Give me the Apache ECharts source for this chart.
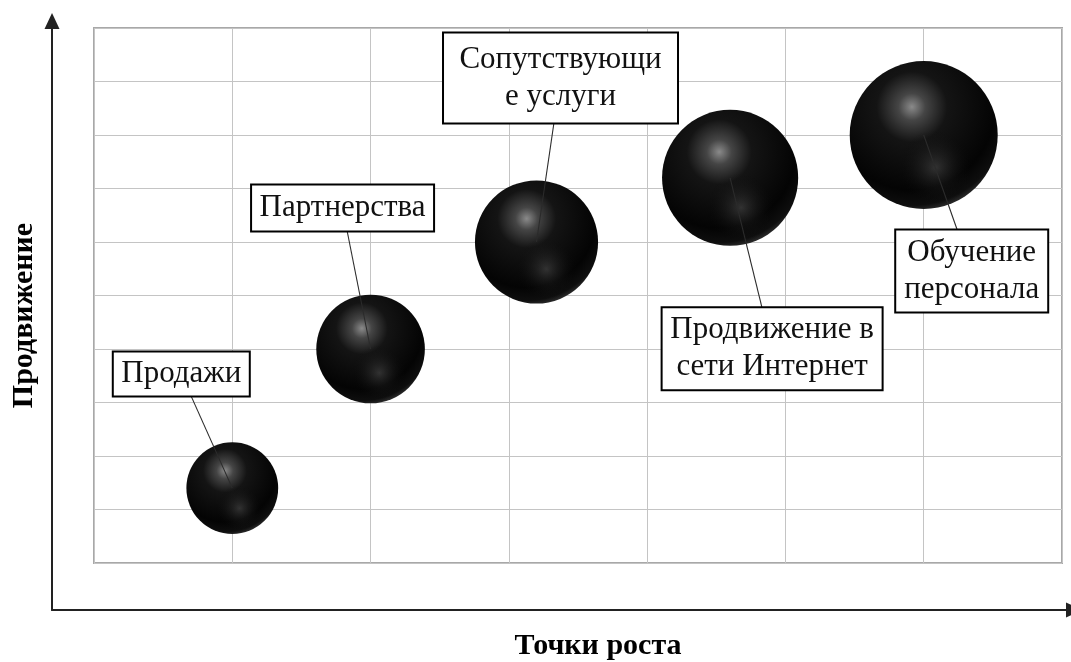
<!DOCTYPE html>
<html>
<head>
<meta charset="utf-8">
<title>Точки роста</title>
<script src="https://cdn.jsdelivr.net/npm/echarts@6/dist/echarts.min.js"></script>
<style>
  html, body { margin: 0; padding: 0; background: #fff; }
  #chart { width: 1071px; height: 662px; }
</style>
</head>
<body>
<div id="chart"></div>
<script>
// Growth points: position on the grid and bubble size
const categories = ['Продажи', 'Партнерства', 'Сопутствующие услуги', 'Продвижение в сети Интернет', 'Обучение персонала'];
const labelTexts = ['Продажи', 'Партнерства', 'Сопутствующи\nе услуги', 'Продвижение в\nсети Интернет', 'Обучение\nперсонала'];
const xValues = [1.0, 2.0, 3.2, 4.6, 6.0];
const yValues = [1.4, 4.0, 6.0, 7.2, 8.0];
const bubbleSizes = [2.5, 3.5, 4.5, 5.5, 6.5];

// Callout placement (pixel offset of the box centre from the bubble centre) and box size
const labelOffsets = [[-51, -114], [-28, -141], [24, -164], [42, 171], [48, 136]];
const labelBoxes = [[137, 45], [183, 47], [235, 91], [221, 83], [153, 83]];

const MAX_DIAMETER = 148;
const maxSize = Math.max.apply(null, bubbleSizes);
const points = xValues.map((x, i) => [x, yValues[i], bubbleSizes[i], categories[i]]);

const sphereBase = {
  type: 'radial', x: 0.42, y: 0.31, r: 0.7,
  colorStops: [
    { offset: 0, color: '#8a8a8a' },
    { offset: 0.13, color: '#454545' },
    { offset: 0.34, color: '#141414' },
    { offset: 0.8, color: '#040404' },
    { offset: 0.95, color: '#0e0e0e' },
    { offset: 1, color: '#262626' }
  ]
};
const sphereGlow = {
  type: 'radial', x: 0.58, y: 0.72, r: 0.26,
  colorStops: [
    { offset: 0, color: 'rgba(110,110,110,0.4)' },
    { offset: 1, color: 'rgba(0,0,0,0)' }
  ]
};

const bubbleSize = v => MAX_DIAMETER * Math.sqrt(v[2] / maxSize);
const serif = '"Liberation Serif", "Times New Roman", serif';

const chart = echarts.init(document.getElementById('chart'), null, { renderer: 'canvas' });
chart.setOption({
  backgroundColor: '#fff',
  animation: false,
  grid: [
    { left: 94, top: 28, width: 968, height: 535, show: true, borderColor: '#a8a8a8', borderWidth: 2, backgroundColor: 'transparent' },
    { left: 52, top: 21, right: -5, bottom: 52 }
  ],
  xAxis: [
    {
      gridIndex: 0, type: 'value', min: 0, max: 7, interval: 1,
      axisLine: { show: false }, axisTick: { show: false }, axisLabel: { show: false },
      splitLine: { show: true, lineStyle: { color: '#c4c4c4', width: 1 } }
    },
    {
      gridIndex: 1, type: 'value', min: 0, max: 1,
      axisLine: { show: true, symbol: ['none', 'triangle'], symbolSize: [15, 16], symbolOffset: [0, 3],
        lineStyle: { color: '#222', width: 2 } },
      axisTick: { show: false }, axisLabel: { show: false }, splitLine: { show: false }
    }
  ],
  yAxis: [
    {
      gridIndex: 0, type: 'value', min: 0, max: 10, interval: 1,
      axisLine: { show: false }, axisTick: { show: false }, axisLabel: { show: false },
      splitLine: { show: true, lineStyle: { color: '#c4c4c4', width: 1 } }
    },
    {
      gridIndex: 1, type: 'value', min: 0, max: 1,
      name: 'Продвижение', nameLocation: 'middle', nameGap: 13,
      nameTextStyle: { fontFamily: serif, fontWeight: 'bold', fontSize: 30, color: '#000' },
      axisLine: { show: true, symbol: ['none', 'triangle'], symbolSize: [15, 16], symbolOffset: [0, 0],
        lineStyle: { color: '#222', width: 2 } },
      axisTick: { show: false }, axisLabel: { show: false }, splitLine: { show: false }
    }
  ],
  graphic: [
    {
      type: 'text', x: 598, y: 646, z: 10,
      style: { text: 'Точки роста', font: 'bold 30px ' + serif, fill: '#000', align: 'center', verticalAlign: 'middle' }
    }
  ],
  series: [
    {
      name: 'Точки роста', type: 'scatter', xAxisIndex: 0, yAxisIndex: 0, z: 2,
      data: points, symbolSize: bubbleSize,
      itemStyle: { color: sphereBase, opacity: 1 },
      emphasis: { disabled: true }
    },
    {
      name: 'Блик', type: 'scatter', xAxisIndex: 0, yAxisIndex: 0, z: 3,
      data: points, symbolSize: bubbleSize,
      itemStyle: { color: sphereGlow, opacity: 1 },
      emphasis: { disabled: true }, silent: true
    },
    {
      name: 'Подписи', type: 'custom', xAxisIndex: 0, yAxisIndex: 0, z: 5,
      data: points, encode: { x: 0, y: 1 },
      renderItem: function (params, api) {
        const i = params.dataIndex;
        const c = api.coord([api.value(0), api.value(1)]);
        const off = labelOffsets[i];
        const box = labelBoxes[i];
        const bx = c[0] + off[0];
        const by = c[1] + off[1];
        return {
          type: 'group',
          children: [
            { type: 'line', shape: { x1: c[0], y1: c[1], x2: bx, y2: by }, style: { stroke: '#2b2b2b', lineWidth: 1.1 } },
            { type: 'rect', shape: { x: bx - box[0] / 2, y: by - box[1] / 2, width: box[0], height: box[1] },
              style: { fill: '#fff', stroke: '#000', lineWidth: 2 } },
            { type: 'text', x: bx, y: by,
              style: { text: labelTexts[i], font: '31px ' + serif, fill: '#111', align: 'center', verticalAlign: 'middle', lineHeight: 37 } }
          ]
        };
      }
    }
  ]
});
</script>
</body>
</html>
